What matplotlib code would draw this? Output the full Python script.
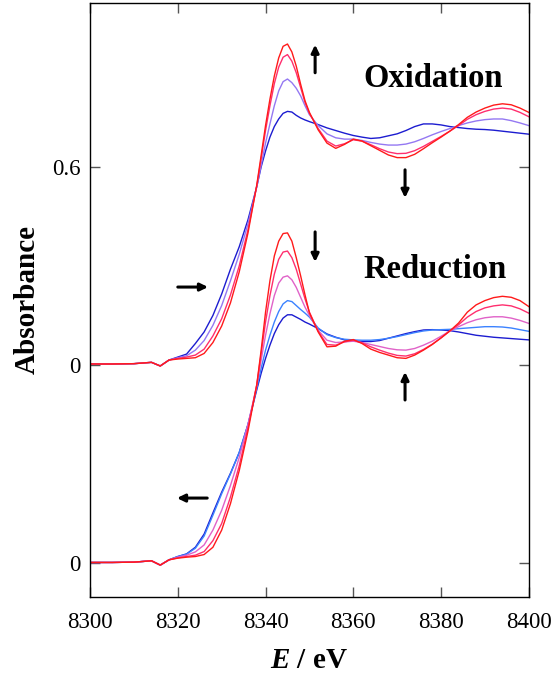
import matplotlib
matplotlib.use('Agg')
import matplotlib.pyplot as plt

plt.rcParams['font.family'] = ['Liberation Serif', 'DejaVu Serif']
plt.rcParams['mathtext.fontset'] = 'custom'
plt.rcParams['mathtext.it'] = 'Liberation Serif:italic:bold'
plt.rcParams['mathtext.rm'] = 'Liberation Serif:bold'

# energy grid (eV)
energy = [8300, 8305, 8310, 8312, 8314, 8316, 8318, 8320, 8322, 8324, 8326, 8328,
          8330, 8332, 8334, 8336, 8338, 8339, 8340, 8341, 8342, 8343, 8344, 8345,
          8346, 8347, 8348, 8349, 8350, 8352, 8354, 8356, 8358, 8360, 8362, 8364,
          8366, 8368, 8370, 8372, 8374, 8376, 8378, 8380, 8382, 8384, 8386, 8388,
          8390, 8392, 8394, 8396, 8398, 8400]

pre = [0.003, 0.003, 0.004, 0.006, 0.008, -0.003, 0.015]

# oxidation series (upper set, own baseline)
ox_red = pre + [0.018, 0.020, 0.022, 0.035, 0.068, 0.118, 0.188, 0.282, 0.400, 0.545,
                0.635, 0.725, 0.805, 0.875, 0.930, 0.965, 0.972, 0.948, 0.905, 0.850,
                0.800, 0.765, 0.712, 0.672, 0.656, 0.668, 0.684, 0.678, 0.664, 0.650,
                0.636, 0.628, 0.628, 0.638, 0.655, 0.673, 0.690, 0.708, 0.728, 0.750,
                0.766, 0.778, 0.787, 0.791, 0.788, 0.778, 0.765]
ox_pink = pre + [0.020, 0.024, 0.030, 0.048, 0.088, 0.140, 0.212, 0.300, 0.410, 0.542,
                 0.625, 0.710, 0.785, 0.852, 0.902, 0.932, 0.940, 0.920, 0.885, 0.840,
                 0.795, 0.762, 0.716, 0.678, 0.663, 0.670, 0.682, 0.678, 0.667, 0.655,
                 0.645, 0.640, 0.641, 0.649, 0.662, 0.677, 0.692, 0.708, 0.725, 0.744,
                 0.758, 0.768, 0.775, 0.778, 0.775, 0.765, 0.752]
ox_purple = pre + [0.022, 0.028, 0.045, 0.074, 0.120, 0.180, 0.255, 0.335, 0.428, 0.540,
                   0.605, 0.672, 0.730, 0.785, 0.830, 0.858, 0.866, 0.855, 0.838, 0.815,
                   0.785, 0.758, 0.725, 0.700, 0.688, 0.684, 0.684, 0.680, 0.674, 0.669,
                   0.666, 0.666, 0.669, 0.676, 0.686, 0.697, 0.707, 0.716, 0.725, 0.733,
                   0.739, 0.743, 0.745, 0.745, 0.740, 0.733, 0.725]
ox_blue = pre + [0.024, 0.033, 0.065, 0.100, 0.150, 0.215, 0.290, 0.358, 0.440, 0.540,
                 0.600, 0.648, 0.690, 0.722, 0.745, 0.762, 0.768, 0.766, 0.756, 0.748,
                 0.742, 0.737, 0.728, 0.718, 0.710, 0.702, 0.695, 0.690, 0.686, 0.688,
                 0.694, 0.700, 0.710, 0.722, 0.730, 0.730, 0.727, 0.722, 0.719, 0.716,
                 0.714, 0.713, 0.711, 0.708, 0.705, 0.702, 0.699]

# reduction series (lower set)
pre2 = [0.002, 0.002, 0.003, 0.005, 0.007, -0.006, 0.010]
red_red = pre2 + [0.015, 0.018, 0.020, 0.026, 0.048, 0.100, 0.180, 0.280, 0.400, 0.540,
                  0.645, 0.760, 0.855, 0.930, 0.975, 0.998, 1.000, 0.975, 0.925, 0.870,
                  0.812, 0.758, 0.700, 0.655, 0.657, 0.672, 0.677, 0.665, 0.648, 0.638,
                  0.630, 0.622, 0.620, 0.630, 0.645, 0.662, 0.682, 0.703, 0.727, 0.760,
                  0.782, 0.795, 0.804, 0.808, 0.805, 0.795, 0.777]
red_pink = pre2 + [0.016, 0.020, 0.024, 0.035, 0.068, 0.120, 0.200, 0.295, 0.410, 0.540,
                   0.635, 0.730, 0.810, 0.875, 0.920, 0.942, 0.945, 0.925, 0.890, 0.845,
                   0.800, 0.760, 0.702, 0.662, 0.660, 0.670, 0.675, 0.667, 0.655, 0.645,
                   0.636, 0.629, 0.627, 0.634, 0.647, 0.663, 0.682, 0.703, 0.722, 0.745,
                   0.762, 0.773, 0.779, 0.782, 0.779, 0.770, 0.757]
red_magenta = pre2 + [0.018, 0.024, 0.034, 0.055, 0.100, 0.160, 0.235, 0.320, 0.420, 0.538,
                      0.615, 0.690, 0.755, 0.810, 0.848, 0.866, 0.870, 0.858, 0.835, 0.805,
                      0.775, 0.750, 0.705, 0.675, 0.668, 0.670, 0.672, 0.668, 0.662, 0.656,
                      0.650, 0.646, 0.645, 0.650, 0.660, 0.672, 0.687, 0.703, 0.716, 0.728,
                      0.737, 0.743, 0.746, 0.746, 0.742, 0.735, 0.726]
red_lblue = pre2 + [0.020, 0.027, 0.045, 0.082, 0.145, 0.210, 0.270, 0.335, 0.420, 0.530,
                    0.590, 0.645, 0.690, 0.730, 0.762, 0.785, 0.795, 0.792, 0.780, 0.768,
                    0.757, 0.745, 0.712, 0.692, 0.683, 0.678, 0.676, 0.675, 0.675, 0.677,
                    0.681, 0.686, 0.692, 0.698, 0.703, 0.706, 0.707, 0.708, 0.710, 0.712,
                    0.714, 0.716, 0.716, 0.715, 0.712, 0.707, 0.702]
red_blue = pre2 + [0.020, 0.028, 0.048, 0.088, 0.152, 0.215, 0.272, 0.335, 0.420, 0.525,
                   0.575, 0.620, 0.660, 0.695, 0.722, 0.742, 0.752, 0.752, 0.745, 0.738,
                   0.730, 0.724, 0.710, 0.694, 0.684, 0.676, 0.673, 0.671, 0.671, 0.674,
                   0.681, 0.688, 0.695, 0.701, 0.706, 0.707, 0.706, 0.704, 0.700, 0.695,
                   0.690, 0.687, 0.684, 0.682, 0.680, 0.678, 0.676]

offset = 0.6
ytick_pos = [0, 0.6, 1.2]
ytick_lab = ['0', '0', '0.6']

fig = plt.figure(figsize=(5.56, 6.84), dpi=100)
ax = fig.add_axes([0.162, 0.127, 0.789, 0.869])

lw = 1.0
# lower (reduction) set
ax.plot(energy, red_blue, color='#1c1cd0', lw=lw)
ax.plot(energy, red_lblue, color='#3b82ff', lw=lw)
ax.plot(energy, red_magenta, color='#e062c8', lw=lw)
ax.plot(energy, red_pink, color='#ff2e6e', lw=lw)
ax.plot(energy, red_red, color='#ff1a1a', lw=lw)
# upper (oxidation) set
ax.plot(energy, [v + offset for v in ox_blue], color='#1c1cd0', lw=lw)
ax.plot(energy, [v + offset for v in ox_purple], color='#9478f2', lw=lw)
ax.plot(energy, [v + offset for v in ox_pink], color='#ff2e6e', lw=lw)
ax.plot(energy, [v + offset for v in ox_red], color='#ff1a1a', lw=lw)

ax.set_xlim(8300, 8400)
ax.set_ylim(-0.103, 1.697)
ax.set_xticks([8300, 8320, 8340, 8360, 8380, 8400])
ax.set_yticks(ytick_pos)
ax.set_yticklabels(ytick_lab)
ax.tick_params(direction='in', length=7, width=1, color='#555555',
               top=True, right=True, labelsize=16.5)
ax.tick_params(axis='x', pad=11)
ax.tick_params(axis='y', pad=7)
for s in ax.spines.values():
    s.set_linewidth(1.0)

ax.set_ylabel('Absorbance', fontsize=21, fontweight='bold', labelpad=8)
ax.set_xlabel(r'$E$ / eV', fontsize=21, fontweight='bold', labelpad=10)

ax.text(8378.1, 1.467, 'Oxidation', fontsize=23.5, fontweight='bold', ha='center', va='center')
ax.text(8378.6, 0.888, 'Reduction', fontsize=23.5, fontweight='bold', ha='center', va='center')

arr = dict(arrowstyle='-|>,head_length=0.45,head_width=0.22', lw=2.2, color='k',
           shrinkA=0, shrinkB=0)
ax.annotate('', xy=(8351.3, 1.570), xytext=(8351.3, 1.485), arrowprops=arr)
ax.annotate('', xy=(8371.8, 1.106), xytext=(8371.8, 1.191), arrowprops=arr)
ax.annotate('', xy=(8326.9, 0.836), xytext=(8320.0, 0.836), arrowprops=arr)
ax.annotate('', xy=(8351.3, 0.912), xytext=(8351.3, 1.003), arrowprops=arr)
ax.annotate('', xy=(8371.8, 0.579), xytext=(8371.8, 0.494), arrowprops=arr)
ax.annotate('', xy=(8319.8, 0.197), xytext=(8326.7, 0.197), arrowprops=arr)

plt.savefig('out.png', dpi=100)
